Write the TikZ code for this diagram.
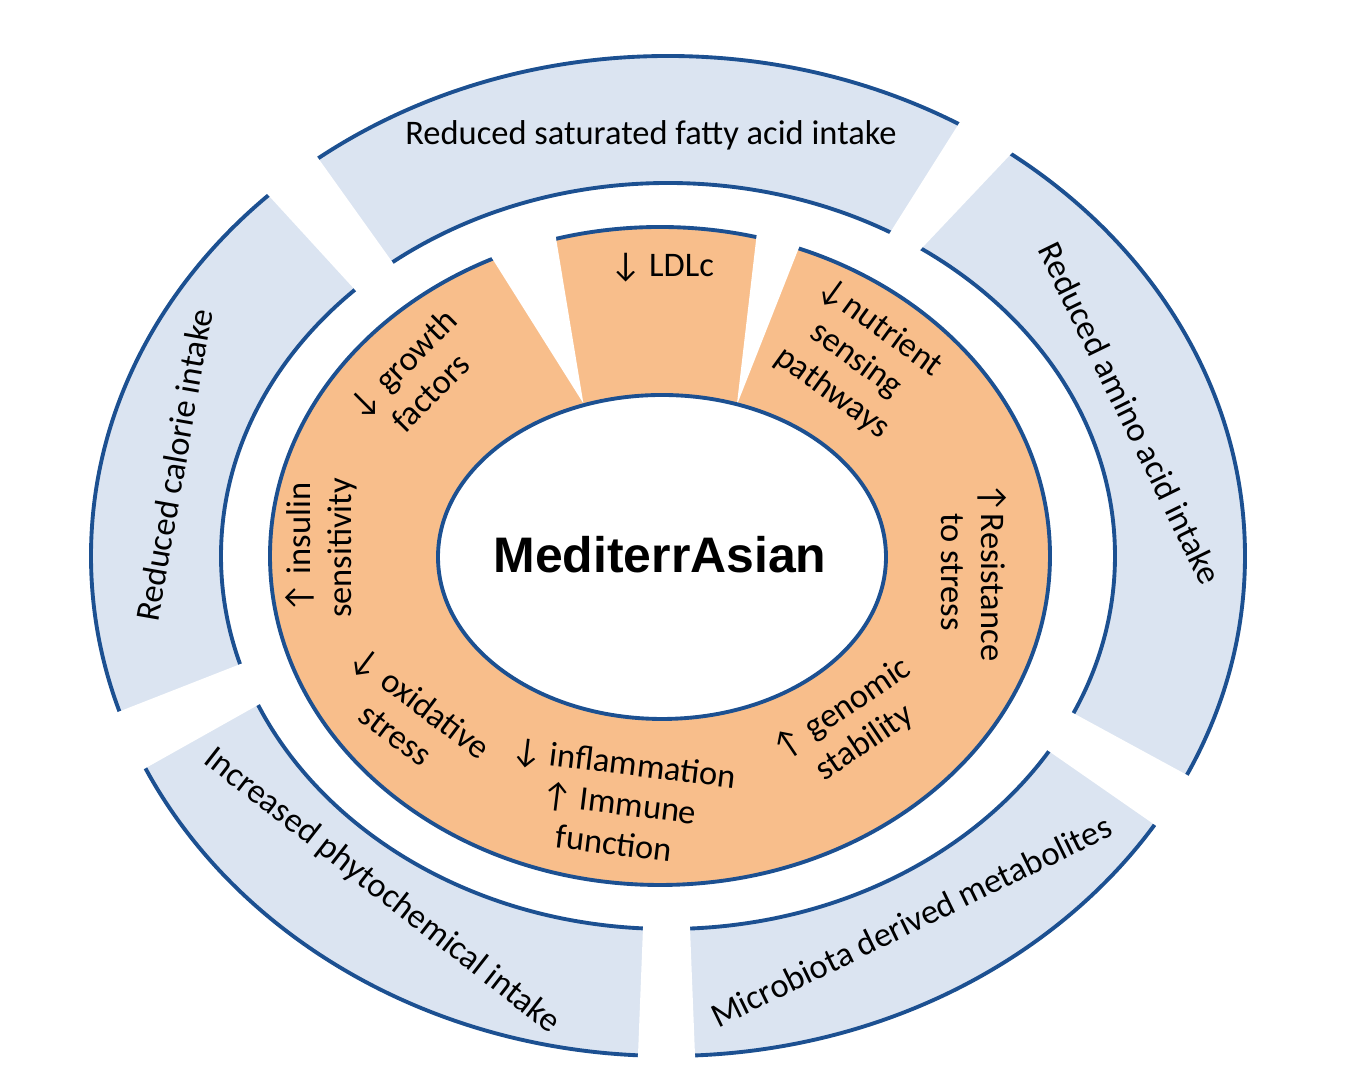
\documentclass[tikz,border=0pt]{standalone}
\usepackage{fontspec}
\setmainfont{Carlito}
\newfontfamily\headfont{Liberation Sans}
\usetikzlibrary{calc}

\definecolor{bandblue}{RGB}{219,228,241}
\definecolor{rimblue}{RGB}{28,80,145}
\definecolor{bandorange}{RGB}{248,190,139}

% white wedge between two segment edges (inner corner, outer corner)
\newcommand{\gapcut}[4]{%
  \fill[white] ($(#1)!-0.1!(#2)$) -- ($(#1)!1.1!(#2)$)
    -- ($(#3)!1.1!(#4)$) -- ($(#3)!-0.1!(#4)$) -- cycle;}

\begin{document}
\begin{tikzpicture}[x=0.01cm, y=-0.01cm]

		\tikzstyle{rim}=[draw=rimblue, line width=1.1pt]
		\tikzstyle{lbl}=[font=\fontsize{9.8}{11.5}\selectfont, align=center, inner sep=0pt]
		\tikzstyle{title}=[font=\headfont\bfseries\fontsize{14.2}{17}\selectfont, inner sep=0pt]
		
		\useasboundingbox (0,0) rectangle (1350,1074);
		
		% Outer band
		\fill[bandblue, even odd rule] (668,556) ellipse [x radius=577, y radius=500]
		(668,556) ellipse [x radius=447, y radius=373];
		\draw[rim] (668,556) ellipse [x radius=577, y radius=500];
		\draw[rim] (668,556) ellipse [x radius=447, y radius=373];
		
		% Segment corners (i = inner, o = outer)
		\coordinate (sfa-li) at (393,263); \coordinate (sfa-lo) at (318,158);
		\coordinate (sfa-ri) at (893,228); \coordinate (sfa-ro) at (958,125);
		\coordinate (ami-ti) at (922,248); \coordinate (ami-to) at (1010,155);
		\coordinate (ami-bi) at (1073,713); \coordinate (ami-bo) at (1187,775);
		\coordinate (mic-ri) at (1050,752); \coordinate (mic-ro) at (1155,825);
		\coordinate (mic-li) at (690,928); \coordinate (mic-lo) at (695,1055);
		\coordinate (phy-ri) at (643,928); \coordinate (phy-ro) at (638,1055);
		\coordinate (phy-li) at (258,705); \coordinate (phy-lo) at (144,769);
		\coordinate (cal-bi) at (238,665); \coordinate (cal-bo) at (118,712);
		\coordinate (cal-ti) at (357,292); \coordinate (cal-to) at (270,197);
		
		% Gaps of the outer band
		\gapcut{sfa-ri}{sfa-ro}{ami-ti}{ami-to}
		\gapcut{ami-bi}{ami-bo}{mic-ri}{mic-ro}
		\gapcut{mic-li}{mic-lo}{phy-ri}{phy-ro}
		\gapcut{phy-li}{phy-lo}{cal-bi}{cal-bo}
		\gapcut{cal-ti}{cal-to}{sfa-li}{sfa-lo}
		
		% Orange band
		\fill[bandorange] (660,556) ellipse [x radius=390, y radius=329];
		\draw[rim] (660,556) ellipse [x radius=390, y radius=329];
		
		\coordinate (grw-ri) at (580,398); \coordinate (grw-ro) at (490,255);
		\coordinate (ldl-li) at (582,395); \coordinate (ldl-lo) at (555,232);
		\coordinate (ldl-ri) at (738,395); \coordinate (ldl-ro) at (757,232);
		\coordinate (nut-li) at (740,397); \coordinate (nut-lo) at (800,245);
		
		\gapcut{grw-ri}{grw-ro}{ldl-li}{ldl-lo}
		\gapcut{ldl-ri}{ldl-ro}{nut-li}{nut-lo}
		
		% Centre
		\filldraw[fill=white, rim] (662,557) ellipse [x radius=224, y radius=162];
		\node[title] (hub) at (660,555) {MediterrAsian};
		
		% Outer labels
		\node[lbl] (sfa) at (651,135) {Reduced saturated fatty acid intake};
		\node[lbl, rotate=80] (cal) at (174,465) {Reduced calorie intake};
		\node[lbl, rotate=-64] (ami) at (1130,413) {Reduced amino acid intake};
		\node[lbl, rotate=26] (mic) at (911,921) {Microbiota derived metabolites};
		\node[lbl, rotate=-38] (phy) at (382,891) {Increased phytochemical intake};
		
		% Effects
		\node[lbl] (ldl) at (662,268) {↓ LDLc};
		\node[lbl, rotate=45] (grw) at (416,378) {↓ growth\\factors};
		\node[lbl, rotate=-36] (nut) at (856,360) {↓nutrient\\sensing\\pathways};
		\node[lbl, rotate=90] (ins) at (321,548) {↑ insulin\\sensitivity};
		\node[lbl, rotate=-90] (res) at (974,572) {↑Resistance\\to stress};
		\node[lbl, rotate=-37] (oxi) at (408,718) {↓ oxidative\\stress};
		\node[lbl, rotate=-7] (inf) at (619,803) {↓ inflammation\\↑ Immune\\function};
		\node[lbl, rotate=34] (gen) at (853,726) {↑ genomic\\stability};
		
\end{tikzpicture}
\end{document}
